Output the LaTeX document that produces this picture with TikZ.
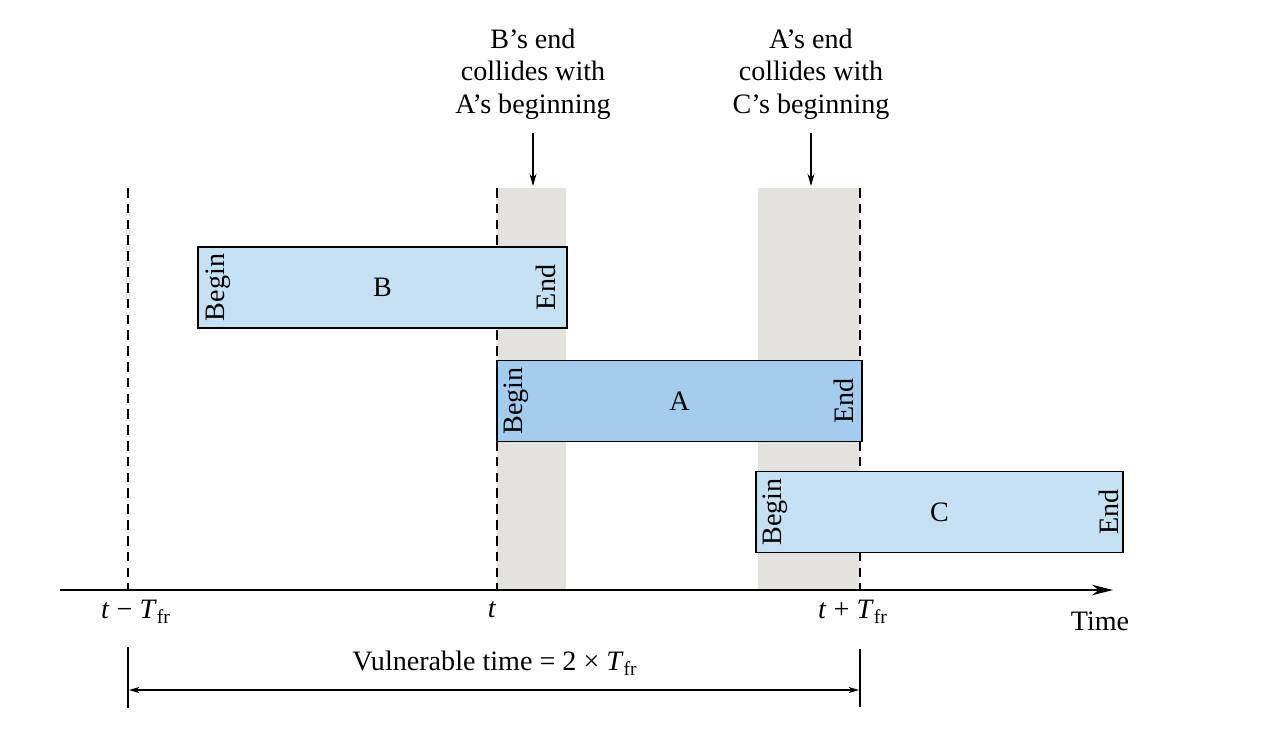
\documentclass[tikz,border=0pt]{standalone}
\usepackage{fontspec}
\setmainfont{Liberation Serif}
\usetikzlibrary{arrows.meta}

\definecolor{paleblue}{RGB}{198,224,244}
\definecolor{midblue}{RGB}{163,204,238}
\definecolor{bandgray}{RGB}{228,226,223}

\tikzset{
  frame/.style={draw=black, line width=1.1pt, inner sep=0pt, minimum width=7.34cm, minimum height=1.62cm},
  sidelabel/.style={rotate=90, inner sep=1pt},
  dashline/.style={line width=0.8pt, dash pattern=on 5.5pt off 3.5pt},
  timeaxis/.style={line width=1.1pt, -{Stealth[length=12pt, width=6pt]}},
  notearrow/.style={line width=0.6pt, shorten <=4pt, -{Stealth[length=7pt, width=4pt]}},
  spanarrow/.style={line width=0.6pt, {Stealth[length=6pt, width=3.5pt]}-{Stealth[length=6pt, width=3.5pt]}}
}

\begin{document}
\begin{tikzpicture}[x=0.02cm, y=-0.02cm, font=\fontsize{16}{18.5}\selectfont]
  \useasboundingbox (0,0) rectangle (1281,744);

  % shaded collision windows
  \fill[bandgray] (497,188) rectangle (566,590);
  \fill[bandgray] (758,188) rectangle (860,590);

  % dashed time marks
  \foreach \x/\n in {128/tm, 497/tz, 860/tp} {
    \coordinate (\n top) at (\x,188);
    \coordinate (\n axis) at (\x,590);
    \draw[dashline] (\n top) -- (\n axis);
  }

  % frame B
  \node[frame, fill=paleblue, minimum width=7.38cm] (B) at (382.5,287.5) {B};
  \node[sidelabel] (Bbegin) at ([xshift=0.42cm]B.west) {Begin};
  \node[sidelabel] (Bend) at ([xshift=-0.44cm]B.east) {End};

  % frame A
  \node[frame, fill=midblue, minimum width=7.3cm] (A) at (679.5,401) {A};
  \node[sidelabel] (Abegin) at ([xshift=0.4cm]A.west) {Begin};
  \node[sidelabel] (Aend) at ([xshift=-0.38cm]A.east) {End};

  % frame C
  \node[frame, fill=paleblue] (C) at (939.5,512) {C};
  \node[sidelabel] (Cbegin) at ([xshift=0.4cm]C.west) {Begin};
  \node[sidelabel] (Cend) at ([xshift=-0.3cm]C.east) {End};

  % time axis
  \coordinate (axstart) at (60,590);
  \coordinate (axend) at (1113,590);
  \draw[timeaxis] (axstart) -- (axend);
  \node (lbltm) at (136,612) {\textit{t} − \textit{T}\textsubscript{fr}};
  \node (lbltz) at (492,610) {\textit{t}};
  \node (lbltp) at (853,612) {\textit{t} + \textit{T}\textsubscript{fr}};
  \node (lbltime) at (1100,621) {Time};

  % collision notes
  \node[align=center] (noteB) at (533,74) {B’s end\\collides with\\A’s beginning};
  \node[align=center] (noteA) at (811,74) {A’s end\\collides with\\C’s beginning};
  \coordinate (noteBtip) at (533,186);
  \coordinate (noteAtip) at (811,186);
  \draw[notearrow] (noteB.south) -- (noteBtip);
  \draw[notearrow] (noteA.south) -- (noteAtip);

  % vulnerable time span
  \coordinate (vlt) at (128,647);
  \coordinate (vlb) at (128,708);
  \coordinate (vrt) at (860,649);
  \coordinate (vrb) at (860,707);
  \draw[line width=0.8pt] (vlt) -- (vlb);
  \draw[line width=0.8pt] (vrt) -- (vrb);
  \coordinate (spanl) at (129,690);
  \coordinate (spanr) at (859,690);
  \draw[spanarrow] (spanl) -- (spanr);
  \node (vuln) at (495,663) {Vulnerable time = 2 × \textit{T}\textsubscript{fr}};
\end{tikzpicture}
\end{document}
